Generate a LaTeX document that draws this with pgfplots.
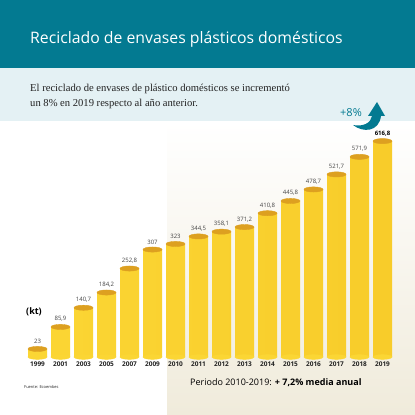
\documentclass[border=0pt]{standalone}
\usepackage{fontspec}
\setmainfont{Liberation Serif}
\newfontfamily\sans{Open Sans}
\usepackage{pgfplots}
\pgfplotsset{compat=1.18}
\usepackage{pgfplotstable}
\definecolor{tealhead}{HTML}{037A91}
\definecolor{lightband}{HTML}{E4F1F4}
\definecolor{beige}{HTML}{F0EBDB}
\definecolor{baryellow}{HTML}{FBD634}
\definecolor{barlight}{HTML}{FDE152}
\definecolor{bardark}{HTML}{F8CC2A}
\definecolor{topgold}{HTML}{DDA020}
\definecolor{labgray}{HTML}{444444}
\definecolor{darktext}{HTML}{222222}

\pgfplotstableread{
x y
0 23
1 85.9
2 140.7
3 184.2
4 252.8
5 307
6 323
7 344.5
8 358.1
9 371.2
10 410.8
11 445.8
12 478.7
13 521.7
14 571.9
15 616.8
}\data

\begin{document}
\begin{tikzpicture}
\fill[white] (0pt,0pt) rectangle (415pt,415pt);
\shade[top color=white, bottom color=beige] (167pt,0pt) rectangle (415pt,294pt);
\fill[tealhead] (0pt,347pt) rectangle (415pt,415pt);
\fill[lightband] (0pt,294pt) rectangle (415pt,347pt);
\node[anchor=base west, text=white, inner sep=0pt, font=\sans\fontsize{15.8}{15.8}\selectfont] at (30pt,371pt) {Reciclado de envases plásticos domésticos};
\node[anchor=base west, text=darktext, inner sep=0pt, font=\fontsize{10.6}{10.6}\selectfont] at (30pt,323pt) {El reciclado de envases de plástico domésticos se incrementó};
\node[anchor=base west, text=darktext, inner sep=0pt, font=\fontsize{10.6}{10.6}\selectfont] at (30pt,308pt) {un 8\% en 2019 respecto al año anterior.};
% arrow
\fill[tealhead] (353pt,290pt) .. controls (363pt,282pt) and (379pt,283pt) .. (381pt,299pt) -- (385pt,299pt) -- (377pt,313pt) -- (368pt,299pt) -- (372pt,299pt) .. controls (371pt,292pt) and (363pt,288pt) .. cycle;
\node[text=tealhead, font=\sans\fontsize{11}{11}\selectfont, inner sep=0pt] at (351pt,302pt) {+8\%};
\node[anchor=west, inner sep=0pt, font=\sans\bfseries\fontsize{9}{9}\selectfont, text=black] at (26pt,103pt) {(kt)};
\node[anchor=west, inner sep=0pt, font=\sans\fontsize{4}{4}\selectfont, text=darktext] at (24pt,28pt) {Fuente: Ecoembes};
\node[anchor=west, inner sep=0pt, font=\sans\fontsize{9}{9}\selectfont, text=black] at (190pt,32pt) {Periodo 2010-2019: \textbf{+ 7,2\% media anual}};
\begin{axis}[
  at={(26pt,58pt)}, anchor=south west, scale only axis,
  width=368pt, height=245pt,
  xmin=-0.5, xmax=15.5, ymin=0, ymax=700,
  clip=false,
  axis line style={draw=none},
  tick style={draw=none},
  ytick=\empty,
  xtick={0,...,15},
  xticklabels={1999,2001,2003,2005,2007,2009,2010,2011,2012,2013,2014,2015,2016,2017,2018,2019},
  xticklabel style={font=\sans\bfseries\fontsize{6.5}{6.5}\selectfont, text=darktext, yshift=-1pt},
  /pgf/number format/assume math mode=true,
  /pgf/number format/use comma,
  /pgf/number format/fixed,
  /pgf/number format/precision=1,
]
\addplot[only marks, mark=*, color=baryellow, mark size=9.5pt, mark options={yscale=0.25, fill=baryellow, draw=baryellow}] table[x=x,y expr=0]{\data};
\addplot[ybar, bar width=19pt, bar shift=0pt, draw=none, left color=baryellow, middle color=barlight, right color=bardark] table[x=x,y=y]{\data};
\addplot[only marks, mark=*, color=topgold, mark size=9.5pt, mark options={yscale=0.27, fill=topgold, draw=topgold}] table[x=x,y=y]{\data};
\addplot[draw=none, mark=none, skip coords between index={15}{16},
  nodes near coords, point meta=y,
  every node near coord/.style={anchor=south, inner sep=0pt, yshift=5pt, font=\sans\fontsize{6}{6}\selectfont, text=labgray}] table[x=x,y=y]{\data};
\addplot[draw=none, mark=none, skip coords between index={0}{15},
  nodes near coords, point meta=y,
  every node near coord/.style={anchor=south, inner sep=0pt, yshift=5pt, font=\sans\bfseries\fontsize{6}{6}\selectfont, text=black}] table[x=x,y=y]{\data};
\end{axis}
\end{tikzpicture}
\end{document}
